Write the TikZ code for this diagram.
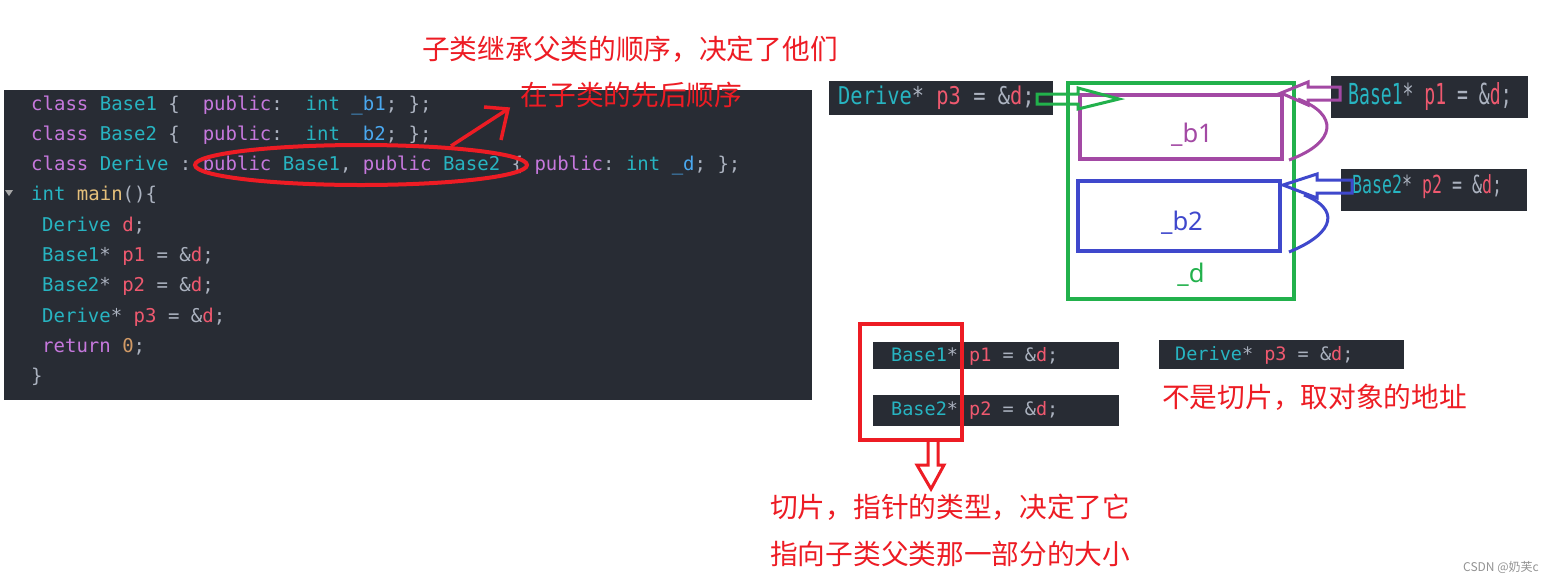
\documentclass[tikz,border=0pt]{standalone}
\usepackage{fontspec}
\setmonofont{DejaVu Sans Mono}
\newfontfamily\cjk{Noto Sans CJK SC}
\newfontfamily\lblfont{Noto Sans}
\definecolor{cbg}{HTML}{282C34}
\definecolor{ckwc}{HTML}{C678DD}
\definecolor{ctyc}{HTML}{27B4C1}
\definecolor{cfdc}{HTML}{4AA8EF}
\definecolor{cvrc}{HTML}{EF596F}
\definecolor{cpnc}{HTML}{ABB2BF}
\definecolor{cfnc}{HTML}{E5C07B}
\definecolor{cnmc}{HTML}{D19A66}
\definecolor{annred}{HTML}{ED1C24}
\definecolor{anngreen}{HTML}{22B14C}
\definecolor{annpurple}{HTML}{A349A4}
\definecolor{annblue}{HTML}{3F48CC}
\newcommand\ckw[1]{\textcolor{ckwc}{#1}}
\newcommand\cty[1]{\textcolor{ctyc}{#1}}
\newcommand\cfd[1]{\textcolor{cfdc}{#1}}
\newcommand\cvr[1]{\textcolor{cvrc}{#1}}
\newcommand\cpn[1]{\textcolor{cpnc}{#1}}
\newcommand\cfn[1]{\textcolor{cfnc}{#1}}
\newcommand\cnm[1]{\textcolor{cnmc}{#1}}
\begin{document}
\begin{tikzpicture}[x=1pt,y=-1pt,
  codeline/.style={anchor=base west,inner sep=0pt,font=\ttfamily\fontsize{19}{19}\selectfont\frenchspacing},
  snip/.style={anchor=west,inner sep=0pt,font=\ttfamily\frenchspacing},
  darkbox/.style={anchor=north west,fill=cbg,draw=none,inner sep=0pt},
  redtext/.style={inner sep=0pt,text=annred,font=\cjk\fontsize{27.7}{30}\selectfont},
  memlabel/.style={anchor=base,inner sep=0pt,font=\lblfont\fontsize{25.6}{28}\selectfont},
  hollow/.style={line width=3pt,line join=miter},
]
\useasboundingbox (0,0) rectangle (1553,582);
\fill[white] (0,0) rectangle (1553,582);

% ---------- code panel ----------
\node[darkbox,minimum width=808pt,minimum height=310pt] (panel) at (4,90) {};
\fill[gray!70] (5,190) -- (13,190) -- (9,196) -- cycle;
\node[codeline] (l1) at (31,110) {\ckw{class} \cty{Base1} \cpn{\{}~~\ckw{public}\cpn{:}~~\cty{int} \cfd{\_b1}\cpn{;} \cpn{\};}};
\node[codeline] (l2) at (31,140.3) {\ckw{class} \cty{Base2} \cpn{\{}~~\ckw{public}\cpn{:}~~\cty{int} \cfd{\_b2}\cpn{;} \cpn{\};}};
\node[codeline] (l3) at (31,170.6) {\ckw{class} \cty{Derive} \cpn{:} \ckw{public} \cty{Base1}\cpn{,} \ckw{public} \cty{Base2} \cpn{\{} \ckw{public}\cpn{:} \cty{int} \cfd{\_d}\cpn{;} \cpn{\};}};
\node[codeline] (l4) at (31,200.9) {\cty{int} \cfn{main}\cpn{()\{}};
\node[codeline] (l5) at (42,231.2) {\cty{Derive} \cvr{d}\cpn{;}};
\node[codeline] (l6) at (42,261.5) {\cty{Base1}\cpn{*} \cvr{p1} \cpn{= \&}\cvr{d}\cpn{;}};
\node[codeline] (l7) at (42,291.8) {\cty{Base2}\cpn{*} \cvr{p2} \cpn{= \&}\cvr{d}\cpn{;}};
\node[codeline] (l8) at (42,322.1) {\cty{Derive}\cpn{*} \cvr{p3} \cpn{= \&}\cvr{d}\cpn{;}};
\node[codeline] (l9) at (42,352.4) {\ckw{return} \cnm{0}\cpn{;}};
\node[codeline] (l10) at (31,382.7) {\cpn{\}}};

% ---------- red ellipse and arrow ----------
\draw[annred,line width=4pt] (361,165) ellipse [x radius=166, y radius=20];
\coordinate (arrtail) at (451,146);
\coordinate (arrtip) at (508,109);
\draw[annred,line width=3.5pt] (arrtail) -- (arrtip);
\draw[annred,line width=3.5pt,line join=miter] (484,107) -- (arrtip) -- (501,140);

\node[redtext] (t1) at (630,49) {子类继承父类的顺序，决定了他们};
\node[redtext] (t2) at (631.5,95) {在子类的先后顺序};

% ---------- memory layout ----------
\node[darkbox,minimum width=224pt,minimum height=34pt] (p3box) at (829,81) {};
\node[snip] (p3txt) at (838,98) {\scalebox{1}[1.2]{\fontsize{20.4}{20}\selectfont\cty{Derive}\cpn{*} \cvr{p3} \cpn{= \&}\cvr{d}\cpn{;}}};

\node[darkbox,minimum width=197pt,minimum height=42pt] (p1box) at (1331,76) {};
\node[snip] (p1txt) at (1348,96.5) {\scalebox{1}[1.6]{\fontsize{18.1}{18}\selectfont\cty{Base1}\cpn{*} \cvr{p1} \cpn{= \&}\cvr{d}\cpn{;}}};

\node[darkbox,minimum width=186pt,minimum height=42pt] (p2box) at (1341,169) {};
\node[snip] (p2txt) at (1352,187) {\scalebox{1}[1.5]{\fontsize{16.6}{17}\selectfont\cty{Base2}\cpn{*} \cvr{p2} \cpn{= \&}\cvr{d}\cpn{;}}};

\draw[anngreen,line width=4pt] (1068,83) rectangle (1294,299);
\draw[annpurple,line width=4pt] (1080,95) rectangle (1282,159);
\draw[annblue,line width=4pt] (1078,181) rectangle (1280,251);
\node[memlabel,text=annpurple] (b1) at (1192,142) {\_b1};
\node[memlabel,text=annblue] (b2) at (1182,230) {\_b2};
\node[memlabel,text=anngreen] (dl) at (1191,282) {\_d};

% green hollow arrow
\draw[hollow,anngreen] (1037,94) -- (1078,94) -- (1078,88) -- (1119,99) -- (1078,109) -- (1078,104) -- (1037,104) -- cycle;
% purple hollow arrow and brace
\draw[hollow,annpurple] (1340,87) -- (1308,87) -- (1308,82) -- (1281,93) -- (1308,105) -- (1308,100) -- (1340,100) -- cycle;
\draw[annpurple,line width=3pt] (1298,99) .. controls (1338,114) and (1338,142) .. (1289,160);
% blue hollow arrow and brace
\draw[hollow,annblue] (1352,180) -- (1317,180) -- (1317,174) -- (1283,185) -- (1317,198) -- (1317,193) -- (1352,193) -- cycle;
\draw[annblue,line width=3pt] (1304,195) .. controls (1338,208) and (1338,232) .. (1289,252);

% ---------- lower part ----------
\node[darkbox,minimum width=246pt,minimum height=27pt] (q1box) at (873,342) {};
\node[snip,font=\ttfamily\fontsize{18.5}{19}\selectfont\frenchspacing] (q1txt) at (891,356) {\cty{Base1}\cpn{*} \cvr{p1} \cpn{= \&}\cvr{d}\cpn{;}};
\node[darkbox,minimum width=246pt,minimum height=31pt] (q2box) at (873,395) {};
\node[snip,font=\ttfamily\fontsize{18.5}{19}\selectfont\frenchspacing] (q2txt) at (891,410) {\cty{Base2}\cpn{*} \cvr{p2} \cpn{= \&}\cvr{d}\cpn{;}};
\node[darkbox,minimum width=245pt,minimum height=29pt] (q3box) at (1159,340) {};
\node[snip,font=\ttfamily\fontsize{18.5}{19}\selectfont\frenchspacing] (q3txt) at (1175,355) {\cty{Derive}\cpn{*} \cvr{p3} \cpn{= \&}\cvr{d}\cpn{;}};

\draw[annred,line width=4pt] (860,324) rectangle (962,440);
\draw[hollow,annred] (928,442) -- (928,465) -- (917,465) -- (931,489) -- (944,465) -- (938,465) -- (938,442);

\node[redtext,anchor=west] (t3) at (1162,397) {不是切片，取对象的地址};
\node[redtext,anchor=west] (t4) at (770,507) {切片，指针的类型，决定了它};
\node[redtext,anchor=west] (t5) at (770,554) {指向子类父类那一部分的大小};

\node[anchor=east,inner sep=0pt,text=gray!85,font=\cjk\fontsize{12}{12}\selectfont] (wm) at (1539,567) {CSDN @奶芙c};
\end{tikzpicture}
\end{document}
